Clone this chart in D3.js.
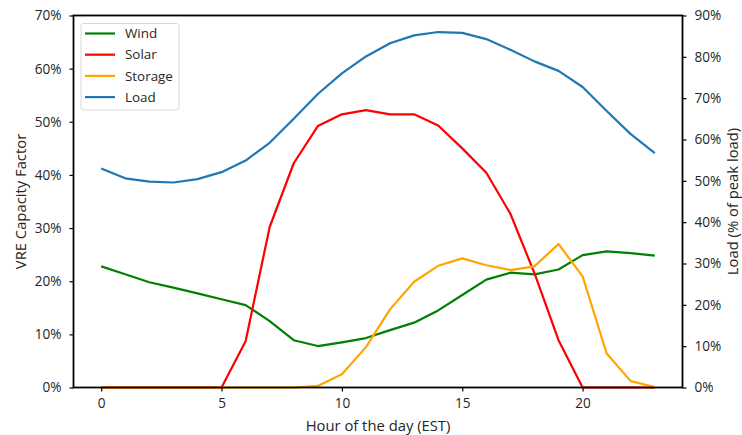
<!DOCTYPE html>
<html>
<head>
<meta charset="utf-8">
<script src="https://cdn.jsdelivr.net/npm/d3@7"></script>
<style>
  html, body { margin: 0; padding: 0; background: #fff; }
  svg text { font-family: "Open Sans", "DejaVu Sans", sans-serif; fill: #262626; }
</style>
</head>
<body>
<svg id="chart" width="742" height="435"></svg>
<script>
// Hour of day
const hours = d3.range(0, 24);

// VRE capacity factors (%), left axis
const wind = [22.8, 21.3, 19.8, 18.8, 17.7, 16.6, 15.5, 12.5, 8.9, 7.8, 8.5, 9.3,
              10.8, 12.2, 14.5, 17.4, 20.3, 21.6, 21.3, 22.2, 24.9, 25.6, 25.3, 24.8];
const solar = [0, 0, 0, 0, 0, 0, 8.7, 30.2, 42.2, 49.2, 51.4, 52.2,
               51.4, 51.4, 49.3, 45.0, 40.4, 32.7, 21.5, 8.9, 0, 0, 0, 0];
const storage = [0, 0, 0, 0, 0, 0, 0, 0, 0, 0.3, 2.5, 7.6,
                 14.7, 19.9, 22.9, 24.3, 23.0, 22.1, 22.8, 27.0, 20.9, 6.4, 1.2, 0.1];

// Load as % of peak load, right axis
const load = [53.0, 50.6, 49.8, 49.6, 50.4, 52.1, 54.9, 59.2, 65.0, 71.0, 76.0, 80.1,
              83.3, 85.2, 86.0, 85.8, 84.3, 81.7, 78.9, 76.6, 72.7, 66.9, 61.3, 56.7];

const xTicks = [0, 5, 10, 15, 20];
const leftTicks = [0, 10, 20, 30, 40, 50, 60, 70];
const rightTicks = [0, 10, 20, 30, 40, 50, 60, 70, 80, 90];

const seriesLeft = [
  { name: "Wind", values: wind, color: "#008000" },
  { name: "Solar", values: solar, color: "#ff0000" },
  { name: "Storage", values: storage, color: "#ffa500" }
];
const seriesRight = { name: "Load", values: load, color: "#1f77b4" };

const margin = { top: 15.5, right: 59.5, bottom: 47.5, left: 73.5 };
const W = 742, H = 435;
const w = W - margin.left - margin.right;
const h = H - margin.top - margin.bottom;

const svg = d3.select("#chart");
const g = svg.append("g").attr("transform", `translate(${margin.left},${margin.top})`);

const x = d3.scaleLinear().domain([-1.15, 24.15]).range([0, w]);
const yL = d3.scaleLinear().domain([0, 70]).range([h, 0]);
const yR = d3.scaleLinear().domain([0, 90]).range([h, 0]);

const lineL = d3.line().x((d, i) => x(hours[i])).y(d => yL(d));
const lineR = d3.line().x((d, i) => x(hours[i])).y(d => yR(d));

const plot = g.append("g");
seriesLeft.forEach(s => {
  plot.append("path")
    .datum(s.values)
    .attr("fill", "none")
    .attr("stroke", s.color)
    .attr("stroke-width", 2.2)
    .attr("stroke-linejoin", "round")
    .attr("d", lineL);
});
plot.append("path")
  .datum(seriesRight.values)
  .attr("fill", "none")
  .attr("stroke", seriesRight.color)
  .attr("stroke-width", 2.2)
  .attr("stroke-linejoin", "round")
  .attr("d", lineR);

// Axes
const fmtPct = d => d + "%";
function styleAxis(sel) {
  sel.select(".domain").remove();
  sel.selectAll(".tick line").attr("stroke", "#000").attr("stroke-width", 1.2);
  sel.selectAll(".tick text").style("font-size", "13.6px").attr("fill", "#262626");
}

g.append("g")
  .attr("transform", `translate(0,${h})`)
  .call(d3.axisBottom(x).tickValues(xTicks).tickSize(4).tickPadding(7).tickFormat(d3.format("d")))
  .call(styleAxis);

g.append("g")
  .call(d3.axisLeft(yL).tickValues(leftTicks).tickSize(4).tickPadding(8).tickFormat(fmtPct))
  .call(styleAxis);

g.append("g")
  .attr("transform", `translate(${w},0)`)
  .call(d3.axisRight(yR).tickValues(rightTicks).tickSize(4).tickPadding(8).tickFormat(fmtPct))
  .call(styleAxis);

// Frame
g.append("rect")
  .attr("x", 0).attr("y", 0).attr("width", w).attr("height", h)
  .attr("fill", "none").attr("stroke", "#000").attr("stroke-width", 1.8);

// Axis titles
g.append("text")
  .attr("x", w / 2).attr("y", h + 43)
  .attr("text-anchor", "middle")
  .style("font-size", "14.8px")
  .text("Hour of the day (EST)");

g.append("text")
  .attr("transform", `translate(${-48},${h / 2}) rotate(-90)`)
  .attr("text-anchor", "middle")
  .style("font-size", "14.8px")
  .text("VRE Capacity Factor");

g.append("text")
  .attr("transform", `translate(${w + 55},${h / 2}) rotate(-90)`)
  .attr("text-anchor", "middle")
  .style("font-size", "14.8px")
  .text("Load (% of peak load)");

// Legend
const legendItems = seriesLeft.concat([seriesRight]);
const lg = svg.append("g").attr("transform", "translate(81,23.5)");
lg.append("rect")
  .attr("width", 98).attr("height", 86.5)
  .attr("rx", 2.5)
  .attr("fill", "#fff").attr("fill-opacity", 0.8)
  .attr("stroke", "#d9d9d9").attr("stroke-width", 1);
legendItems.forEach((s, i) => {
  const yy = 10 + i * 21.2;
  lg.append("line")
    .attr("x1", 4).attr("x2", 34).attr("y1", yy).attr("y2", yy)
    .attr("stroke", s.color).attr("stroke-width", 2.2);
  lg.append("text")
    .attr("x", 44).attr("y", yy).attr("dy", "0.35em")
    .style("font-size", "13.4px")
    .text(s.name);
});
</script>
</body>
</html>
